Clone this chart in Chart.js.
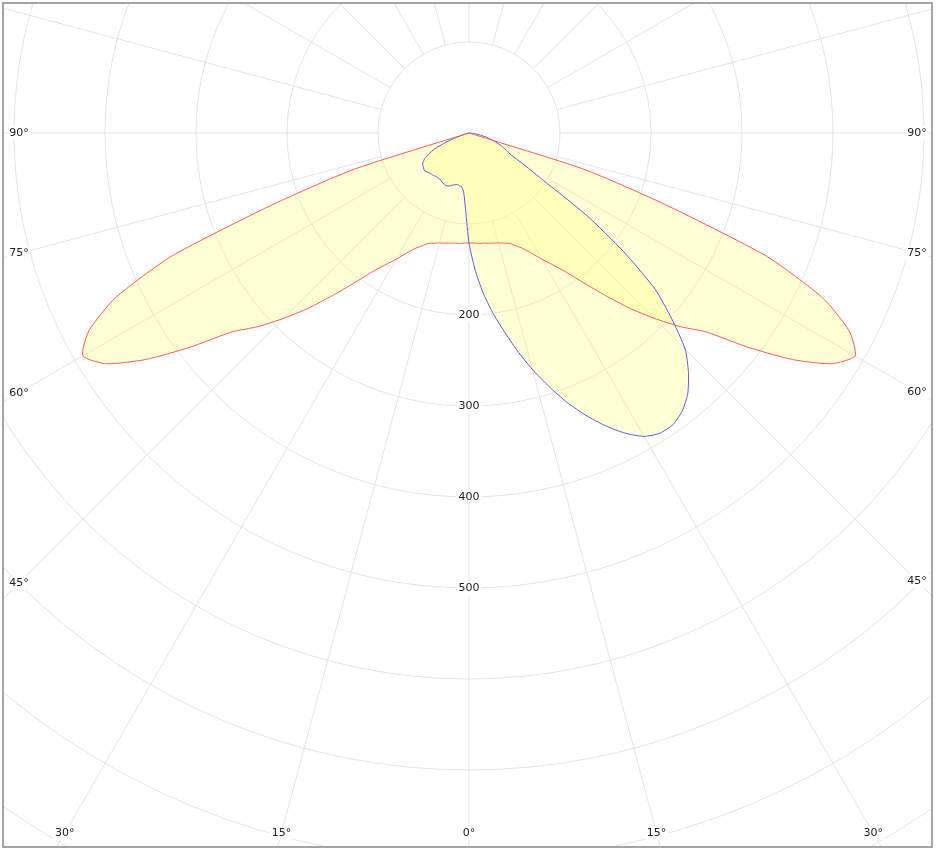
<!DOCTYPE html>
<html>
<head>
<meta charset="utf-8">
<script src="https://cdn.jsdelivr.net/npm/chart.js@4.4.1/dist/chart.umd.min.js"></script>
<style>
  body { margin: 0; background: #fff; }
  .frame { position: absolute; left: 2px; top: 2px; width: 927px; height: 842px; border: 2px solid #a4a4a4; overflow: hidden; background: #fff; }
  canvas { display: block; }
</style>
</head>
<body>
<div class="frame"><canvas id="myChart" width="927" height="842"></canvas></div>
<script>
// gamma angles in degrees from nadir
const gamma = [0,2.5,5,7.5,10,12.5,15,17.5,20,22.5,25,27.5,30,32.5,35,37.5,40,42.5,45,47.5,50,52.5,55,57.5,60,62.5,65,67.5,70,72.5,75,77.5,80,82.5,85,87.5,90];
// C0 / C180 plane (red), cd
const c0   = [121,121,122,122,123,124,125,127,129,134,140,149,160,172,187,208,233,261,288,315,340,387,434,472,490,471,429,354,228,132,0,0,0,0,0,0,0];
const c180 = [121,121,122,122,123,124,125,127,129,134,140,149,160,172,187,208,233,261,288,315,340,387,434,472,490,471,429,354,228,132,0,0,0,0,0,0,0];
// C90 / C270 plane (blue), cd
const c90  = [121,150,176,199,221,245,269,292,315,336,355,372,385,391,391,385,374,357,336,302,267,214,158,97,70,52,46,40,34,28,23,17,12,8,5,2,0];
const c270 = [121,85,66,60,59,58,59,60,62,63,63,62,61,60,60,60,61,61,62,63,64,63,62,60,56,50,42,30,18,8,3,0,0,0,0,0,0];

// grid
const ring_values = [100,200,300,400,500,600,700,800,900,1000];
const ring_labels = [200,300,400,500];
const angle_labels = [-90,-75,-60,-45,-30,-15,0,15,30,45,60,75,90];

// scale: 0.91 px per cd, centre at (465,129) in the canvas
const PX = 0.91, CX = 465, CY = 129, W = 927, H = 842;

function plane_points( left, right ) {
    // left half from 90 down to 0, then right half from 0 up to 90
    let pts = [];
    for( let i = gamma.length-1; i >= 0; --i ) {
        let g = gamma[i] * Math.PI / 180;
        pts.push({ x: -left[i] * Math.sin(g), y: -left[i] * Math.cos(g) });
    }
    for( let i = 1; i < gamma.length; ++i ) {
        let g = gamma[i] * Math.PI / 180;
        pts.push({ x: right[i] * Math.sin(g), y: -right[i] * Math.cos(g) });
    }
    return pts;
}

function label_box( ctx, text, x, y ) {
    let w = ctx.measureText(text).width;
    ctx.fillStyle = '#fff';
    ctx.fillRect(x - w/2 - 2, y - 7, w + 4, 14);
    ctx.fillStyle = '#222';
    ctx.fillText(text, x, y);
}

const polar_grid = {
    id: 'polar_grid',
    beforeDraw(chart) {
        const ctx = chart.ctx;
        const xs = chart.scales.x, ys = chart.scales.y;
        const area = chart.chartArea;
        const cx = xs.getPixelForValue(0), cy = ys.getPixelForValue(0);
        const rad = v => xs.getPixelForValue(v) - cx;
        ctx.save();
        ctx.strokeStyle = '#e3e3e3';
        ctx.lineWidth = 1;
        // circles
        for( const r of ring_values ) {
            ctx.beginPath();
            ctx.arc(cx, cy, rad(r), 0, 2*Math.PI);
            ctx.stroke();
        }
        // spokes every 15 deg, starting at the first ring
        for( let a = -180; a < 180; a += 15 ) {
            let g = a * Math.PI / 180;
            ctx.beginPath();
            ctx.moveTo(xs.getPixelForValue(100*Math.sin(g)), ys.getPixelForValue(-100*Math.cos(g)));
            ctx.lineTo(xs.getPixelForValue(1400*Math.sin(g)), ys.getPixelForValue(-1400*Math.cos(g)));
            ctx.stroke();
        }
        ctx.font = '11px "DejaVu Sans", Verdana, sans-serif';
        ctx.textAlign = 'center';
        ctx.textBaseline = 'middle';
        // value labels on the 0 deg spoke
        for( const r of ring_labels ) {
            label_box(ctx, String(r), cx, ys.getPixelForValue(-r));
        }
        // angle labels at the frame edge
        const left = area.left + 15, right = area.right - 14, bottom = area.bottom - 13;
        for( const a of angle_labels ) {
            let g = a * Math.PI / 180;
            let sx = Math.sin(g), sy = Math.cos(g);
            let t = (bottom - cy) / sy;
            let x = cx + t * sx, y = bottom;
            if( sy < 1e-6 || x < left || x > right ) {
                x = sx > 0 ? right : left;
                t = (x - cx) / sx;
                y = cy + t * sy;
            }
            label_box(ctx, Math.abs(a) + '\u00b0', x, y);
        }
        ctx.restore();
    }
};

const config = {
    type: 'scatter',
    data: {
        datasets: [{
            label: 'C0-C180',
            data: plane_points(c180, c0),
            showLine: true,
            fill: 'shape',
            borderColor: '#ff5a5a',
            backgroundColor: 'rgba(255,255,120,0.3)',
            borderWidth: 1,
            pointRadius: 0,
            tension: 0.2
        }, {
            label: 'C90-C270',
            data: plane_points(c270, c90),
            showLine: true,
            fill: 'shape',
            borderColor: '#5a5aee',
            backgroundColor: 'rgba(255,255,120,0.3)',
            borderWidth: 1,
            pointRadius: 0,
            tension: 0.2
        }]
    },
    options: {
        responsive: false,
        animation: false,
        devicePixelRatio: 1,
        layout: { padding: 0 },
        scales: {
            x: { type: 'linear', min: -CX/PX, max: (W-CX)/PX, display: false },
            y: { type: 'linear', min: -(H-CY)/PX, max: CY/PX, display: false }
        },
        plugins: {
            legend: { display: false },
            tooltip: { enabled: false },
            filler: { drawTime: 'beforeDatasetsDraw' }
        }
    },
    plugins: [polar_grid]
};

const myChart = new Chart(document.getElementById('myChart'), config);
</script>
</body>
</html>
